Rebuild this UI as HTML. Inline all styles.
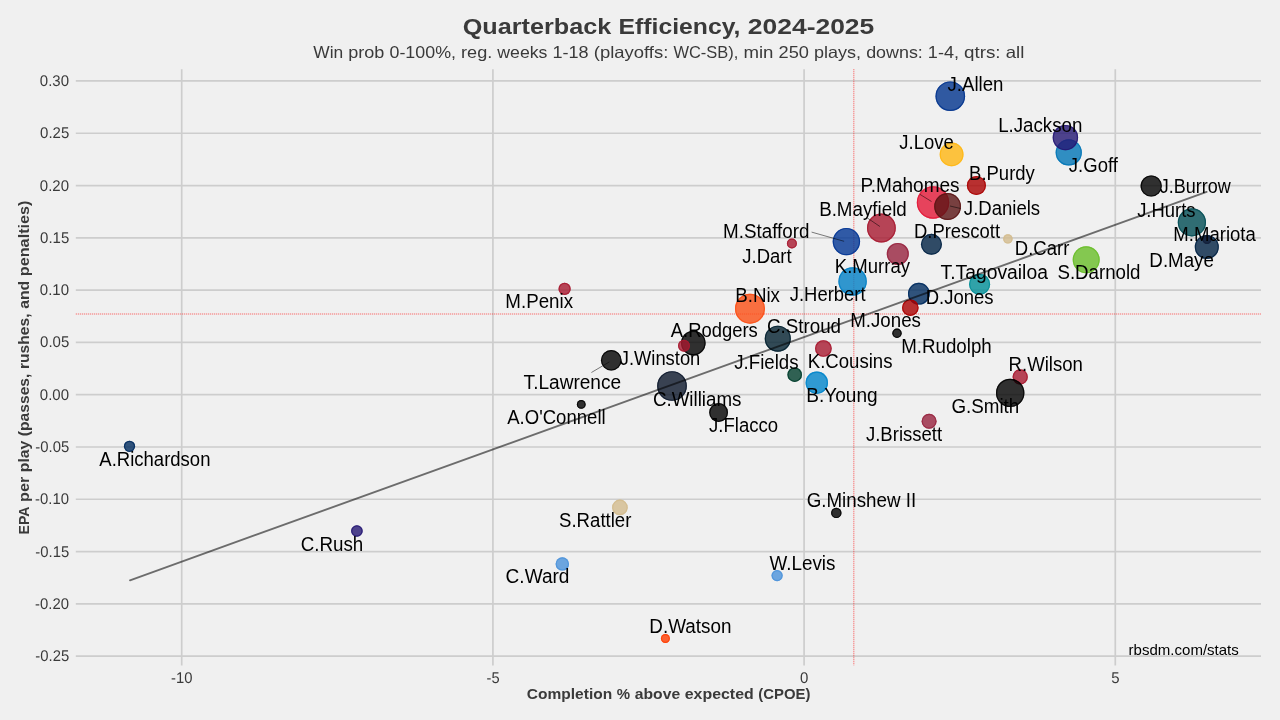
<!DOCTYPE html><html><head><meta charset="utf-8"><style>html,body{margin:0;padding:0;background:#F0F0F0;}svg{display:block;will-change:transform}.gp{text-rendering:geometricPrecision}text{font-family:"Liberation Sans",sans-serif}</style></head><body>
<svg width="1280" height="720" viewBox="0 0 1280 720">
<rect width="1280" height="720" fill="#F0F0F0"/>
<line x1="75.8" y1="80.95" x2="1261.0" y2="80.95" stroke="#CDCDCD" stroke-width="1.7"/>
<line x1="75.8" y1="133.24" x2="1261.0" y2="133.24" stroke="#CDCDCD" stroke-width="1.7"/>
<line x1="75.8" y1="185.53" x2="1261.0" y2="185.53" stroke="#CDCDCD" stroke-width="1.7"/>
<line x1="75.8" y1="237.82" x2="1261.0" y2="237.82" stroke="#CDCDCD" stroke-width="1.7"/>
<line x1="75.8" y1="290.11" x2="1261.0" y2="290.11" stroke="#CDCDCD" stroke-width="1.7"/>
<line x1="75.8" y1="342.40" x2="1261.0" y2="342.40" stroke="#CDCDCD" stroke-width="1.7"/>
<line x1="75.8" y1="394.69" x2="1261.0" y2="394.69" stroke="#CDCDCD" stroke-width="1.7"/>
<line x1="75.8" y1="446.98" x2="1261.0" y2="446.98" stroke="#CDCDCD" stroke-width="1.7"/>
<line x1="75.8" y1="499.27" x2="1261.0" y2="499.27" stroke="#CDCDCD" stroke-width="1.7"/>
<line x1="75.8" y1="551.56" x2="1261.0" y2="551.56" stroke="#CDCDCD" stroke-width="1.7"/>
<line x1="75.8" y1="603.85" x2="1261.0" y2="603.85" stroke="#CDCDCD" stroke-width="1.7"/>
<line x1="75.8" y1="656.14" x2="1261.0" y2="656.14" stroke="#CDCDCD" stroke-width="1.7"/>
<line x1="181.70" y1="69.3" x2="181.70" y2="665.5" stroke="#CDCDCD" stroke-width="1.7"/>
<line x1="492.90" y1="69.3" x2="492.90" y2="665.5" stroke="#CDCDCD" stroke-width="1.7"/>
<line x1="804.10" y1="69.3" x2="804.10" y2="665.5" stroke="#CDCDCD" stroke-width="1.7"/>
<line x1="1115.30" y1="69.3" x2="1115.30" y2="665.5" stroke="#CDCDCD" stroke-width="1.7"/>
<line x1="853.75" y1="69.3" x2="853.75" y2="665.5" stroke="#FF0000" stroke-opacity="0.45" stroke-width="1.5" stroke-dasharray="1,1"/>
<line x1="75.8" y1="314.0" x2="1261.0" y2="314.0" stroke="#FF0000" stroke-opacity="0.45" stroke-width="1.5" stroke-dasharray="1,1"/>
<g><circle cx="129.5" cy="446.3" r="5.60" fill="#002C5F" fill-opacity="0.8"/><circle cx="129.5" cy="446.3" r="5.00" fill="none" stroke="#002C5F" stroke-opacity="0.8" stroke-width="1.2"/></g>
<g><circle cx="356.9" cy="531.0" r="5.80" fill="#241773" fill-opacity="0.8"/><circle cx="356.9" cy="531.0" r="5.20" fill="none" stroke="#241773" stroke-opacity="0.8" stroke-width="1.2"/></g>
<g><circle cx="564.6" cy="288.9" r="6.10" fill="#A71930" fill-opacity="0.8"/><circle cx="564.6" cy="288.9" r="5.50" fill="none" stroke="#A71930" stroke-opacity="0.8" stroke-width="1.2"/></g>
<g><circle cx="562.3" cy="563.9" r="6.70" fill="#4B92DB" fill-opacity="0.8"/><circle cx="562.3" cy="563.9" r="6.10" fill="none" stroke="#4B92DB" stroke-opacity="0.8" stroke-width="1.2"/></g>
<g><circle cx="581.25" cy="404.4" r="4.40" fill="#000000" fill-opacity="0.8"/><circle cx="581.25" cy="404.4" r="3.80" fill="none" stroke="#000000" stroke-opacity="0.8" stroke-width="1.2"/></g>
<g><circle cx="611.25" cy="360.3" r="10.30" fill="#000000" fill-opacity="0.8"/><circle cx="611.25" cy="360.3" r="9.70" fill="none" stroke="#000000" stroke-opacity="0.8" stroke-width="1.2"/></g>
<g><circle cx="619.9" cy="507.4" r="7.80" fill="#D3BC8D" fill-opacity="0.8"/><circle cx="619.9" cy="507.4" r="7.20" fill="none" stroke="#D3BC8D" stroke-opacity="0.8" stroke-width="1.2"/></g>
<g><circle cx="665.4" cy="638.5" r="4.50" fill="#FF3C00" fill-opacity="0.8"/><circle cx="665.4" cy="638.5" r="3.90" fill="none" stroke="#FF3C00" stroke-opacity="0.8" stroke-width="1.2"/></g>
<g><circle cx="672.0" cy="386.0" r="14.85" fill="#0B162A" fill-opacity="0.8"/><circle cx="672.0" cy="386.0" r="14.25" fill="none" stroke="#0B162A" stroke-opacity="0.8" stroke-width="1.2"/></g>
<g><circle cx="693.3" cy="343.0" r="12.30" fill="#000000" fill-opacity="0.8"/><circle cx="693.3" cy="343.0" r="11.70" fill="none" stroke="#000000" stroke-opacity="0.8" stroke-width="1.2"/></g>
<g><circle cx="684.0" cy="345.7" r="6.00" fill="#A71930" fill-opacity="0.8"/><circle cx="684.0" cy="345.7" r="5.40" fill="none" stroke="#A71930" stroke-opacity="0.8" stroke-width="1.2"/></g>
<g><circle cx="718.6" cy="412.5" r="9.40" fill="#000000" fill-opacity="0.8"/><circle cx="718.6" cy="412.5" r="8.80" fill="none" stroke="#000000" stroke-opacity="0.8" stroke-width="1.2"/></g>
<g><circle cx="750.0" cy="308.7" r="15.00" fill="#FB4F14" fill-opacity="0.8"/><circle cx="750.0" cy="308.7" r="14.40" fill="none" stroke="#FB4F14" stroke-opacity="0.8" stroke-width="1.2"/></g>
<g><circle cx="777.1" cy="575.6" r="5.60" fill="#4B92DB" fill-opacity="0.8"/><circle cx="777.1" cy="575.6" r="5.00" fill="none" stroke="#4B92DB" stroke-opacity="0.8" stroke-width="1.2"/></g>
<g><circle cx="777.8" cy="338.7" r="13.05" fill="#03202F" fill-opacity="0.8"/><circle cx="777.8" cy="338.7" r="12.45" fill="none" stroke="#03202F" stroke-opacity="0.8" stroke-width="1.2"/></g>
<g><circle cx="791.9" cy="243.5" r="5.00" fill="#A71930" fill-opacity="0.8"/><circle cx="791.9" cy="243.5" r="4.40" fill="none" stroke="#A71930" stroke-opacity="0.8" stroke-width="1.2"/></g>
<g><circle cx="794.7" cy="374.7" r="7.30" fill="#003D2C" fill-opacity="0.8"/><circle cx="794.7" cy="374.7" r="6.70" fill="none" stroke="#003D2C" stroke-opacity="0.8" stroke-width="1.2"/></g>
<g><circle cx="816.8" cy="382.7" r="11.20" fill="#0085CA" fill-opacity="0.8"/><circle cx="816.8" cy="382.7" r="10.60" fill="none" stroke="#0085CA" stroke-opacity="0.8" stroke-width="1.2"/></g>
<g><circle cx="823.4" cy="348.5" r="8.35" fill="#A71930" fill-opacity="0.8"/><circle cx="823.4" cy="348.5" r="7.75" fill="none" stroke="#A71930" stroke-opacity="0.8" stroke-width="1.2"/></g>
<g><circle cx="836.3" cy="512.9" r="5.20" fill="#000000" fill-opacity="0.8"/><circle cx="836.3" cy="512.9" r="4.60" fill="none" stroke="#000000" stroke-opacity="0.8" stroke-width="1.2"/></g>
<g><circle cx="846.4" cy="241.6" r="13.70" fill="#003594" fill-opacity="0.8"/><circle cx="846.4" cy="241.6" r="13.10" fill="none" stroke="#003594" stroke-opacity="0.8" stroke-width="1.2"/></g>
<g><circle cx="852.6" cy="281.4" r="14.20" fill="#0080C6" fill-opacity="0.8"/><circle cx="852.6" cy="281.4" r="13.60" fill="none" stroke="#0080C6" stroke-opacity="0.8" stroke-width="1.2"/></g>
<g><circle cx="881.4" cy="228.0" r="14.40" fill="#A71930" fill-opacity="0.8"/><circle cx="881.4" cy="228.0" r="13.80" fill="none" stroke="#A71930" stroke-opacity="0.8" stroke-width="1.2"/></g>
<g><circle cx="897.0" cy="333.3" r="4.70" fill="#000000" fill-opacity="0.8"/><circle cx="897.0" cy="333.3" r="4.10" fill="none" stroke="#000000" stroke-opacity="0.8" stroke-width="1.2"/></g>
<g><circle cx="897.8" cy="253.9" r="11.00" fill="#97233F" fill-opacity="0.8"/><circle cx="897.8" cy="253.9" r="10.40" fill="none" stroke="#97233F" stroke-opacity="0.8" stroke-width="1.2"/></g>
<g><circle cx="918.9" cy="293.7" r="10.90" fill="#002C5F" fill-opacity="0.8"/><circle cx="918.9" cy="293.7" r="10.30" fill="none" stroke="#002C5F" stroke-opacity="0.8" stroke-width="1.2"/></g>
<g><circle cx="910.3" cy="307.7" r="8.30" fill="#AA0000" fill-opacity="0.8"/><circle cx="910.3" cy="307.7" r="7.70" fill="none" stroke="#AA0000" stroke-opacity="0.8" stroke-width="1.2"/></g>
<g><circle cx="929.1" cy="421.3" r="7.50" fill="#97233F" fill-opacity="0.8"/><circle cx="929.1" cy="421.3" r="6.90" fill="none" stroke="#97233F" stroke-opacity="0.8" stroke-width="1.2"/></g>
<g><circle cx="931.45" cy="244.3" r="10.50" fill="#002244" fill-opacity="0.8"/><circle cx="931.45" cy="244.3" r="9.90" fill="none" stroke="#002244" stroke-opacity="0.8" stroke-width="1.2"/></g>
<g><circle cx="933.0" cy="202.5" r="16.20" fill="#E31837" fill-opacity="0.8"/><circle cx="933.0" cy="202.5" r="15.60" fill="none" stroke="#E31837" stroke-opacity="0.8" stroke-width="1.2"/></g>
<g><circle cx="947.6" cy="206.5" r="13.40" fill="#5A1414" fill-opacity="0.8"/><circle cx="947.6" cy="206.5" r="12.80" fill="none" stroke="#5A1414" stroke-opacity="0.8" stroke-width="1.2"/></g>
<g><circle cx="950.3" cy="96.2" r="14.80" fill="#00338D" fill-opacity="0.8"/><circle cx="950.3" cy="96.2" r="14.20" fill="none" stroke="#00338D" stroke-opacity="0.8" stroke-width="1.2"/></g>
<g><circle cx="951.6" cy="154.4" r="11.90" fill="#FFB612" fill-opacity="0.8"/><circle cx="951.6" cy="154.4" r="11.30" fill="none" stroke="#FFB612" stroke-opacity="0.8" stroke-width="1.2"/></g>
<g><circle cx="976.4" cy="185.5" r="9.55" fill="#AA0000" fill-opacity="0.8"/><circle cx="976.4" cy="185.5" r="8.95" fill="none" stroke="#AA0000" stroke-opacity="0.8" stroke-width="1.2"/></g>
<g><circle cx="979.6" cy="284.3" r="10.55" fill="#008E97" fill-opacity="0.8"/><circle cx="979.6" cy="284.3" r="9.95" fill="none" stroke="#008E97" stroke-opacity="0.8" stroke-width="1.2"/></g>
<g><circle cx="1007.9" cy="238.9" r="4.70" fill="#D3BC8D" fill-opacity="0.8"/><circle cx="1007.9" cy="238.9" r="4.10" fill="none" stroke="#D3BC8D" stroke-opacity="0.8" stroke-width="1.2"/></g>
<g><circle cx="1020.2" cy="376.9" r="7.60" fill="#A71930" fill-opacity="0.8"/><circle cx="1020.2" cy="376.9" r="7.00" fill="none" stroke="#A71930" stroke-opacity="0.8" stroke-width="1.2"/></g>
<g><circle cx="1010.2" cy="392.9" r="14.20" fill="#000000" fill-opacity="0.8"/><circle cx="1010.2" cy="392.9" r="13.60" fill="none" stroke="#000000" stroke-opacity="0.8" stroke-width="1.2"/></g>
<g><circle cx="1068.75" cy="152.4" r="13.10" fill="#0076B6" fill-opacity="0.8"/><circle cx="1068.75" cy="152.4" r="12.50" fill="none" stroke="#0076B6" stroke-opacity="0.8" stroke-width="1.2"/></g>
<g><circle cx="1065.4" cy="137.6" r="12.70" fill="#241773" fill-opacity="0.8"/><circle cx="1065.4" cy="137.6" r="12.10" fill="none" stroke="#241773" stroke-opacity="0.8" stroke-width="1.2"/></g>
<g><circle cx="1086.2" cy="259.8" r="13.50" fill="#69BE28" fill-opacity="0.8"/><circle cx="1086.2" cy="259.8" r="12.90" fill="none" stroke="#69BE28" stroke-opacity="0.8" stroke-width="1.2"/></g>
<g><circle cx="1151.2" cy="186.0" r="10.60" fill="#000000" fill-opacity="0.8"/><circle cx="1151.2" cy="186.0" r="10.00" fill="none" stroke="#000000" stroke-opacity="0.8" stroke-width="1.2"/></g>
<g><circle cx="1191.9" cy="222.4" r="14.10" fill="#004C54" fill-opacity="0.8"/><circle cx="1191.9" cy="222.4" r="13.50" fill="none" stroke="#004C54" stroke-opacity="0.8" stroke-width="1.2"/></g>
<g><circle cx="1207.0" cy="239.5" r="4.50" fill="#5A1414" fill-opacity="0.8"/><circle cx="1207.0" cy="239.5" r="3.90" fill="none" stroke="#5A1414" stroke-opacity="0.8" stroke-width="1.2"/></g>
<g><circle cx="1206.8" cy="246.9" r="12.00" fill="#002244" fill-opacity="0.8"/><circle cx="1206.8" cy="246.9" r="11.40" fill="none" stroke="#002244" stroke-opacity="0.8" stroke-width="1.2"/></g>
<line x1="130" y1="580.3" x2="1206.6" y2="191.9" stroke="#000" stroke-opacity="0.55" stroke-width="1.9" stroke-linecap="round"/>
<line x1="920" y1="194.4" x2="931.5" y2="201.5" stroke="#000" stroke-opacity="0.5" stroke-width="1"/>
<line x1="950" y1="206" x2="960.6" y2="208.5" stroke="#000" stroke-opacity="0.5" stroke-width="1"/>
<line x1="867.1" y1="217.8" x2="879.9" y2="226.5" stroke="#000" stroke-opacity="0.5" stroke-width="1"/>
<line x1="811.6" y1="232.1" x2="844.1" y2="241.3" stroke="#000" stroke-opacity="0.5" stroke-width="1"/>
<line x1="591.4" y1="372.5" x2="609.4" y2="361.9" stroke="#000" stroke-opacity="0.5" stroke-width="1"/>
<text x="947.56" y="90.50" font-size="19.4" fill="#000" textLength="55.92" lengthAdjust="spacingAndGlyphs">J.Allen</text>
<text x="998.15" y="131.60" font-size="19.4" fill="#000" textLength="84.24" lengthAdjust="spacingAndGlyphs">L.Jackson</text>
<text x="1068.86" y="171.70" font-size="19.4" fill="#000" textLength="49.04" lengthAdjust="spacingAndGlyphs">J.Goff</text>
<text x="899.36" y="148.80" font-size="19.4" fill="#000" textLength="54.40" lengthAdjust="spacingAndGlyphs">J.Love</text>
<text x="969.07" y="179.50" font-size="19.4" fill="#000" textLength="65.77" lengthAdjust="spacingAndGlyphs">B.Purdy</text>
<text x="860.53" y="191.80" font-size="19.4" fill="#000" textLength="99.11" lengthAdjust="spacingAndGlyphs">P.Mahomes</text>
<text x="963.86" y="214.85" font-size="19.4" fill="#000" textLength="76.29" lengthAdjust="spacingAndGlyphs">J.Daniels</text>
<text x="1159.77" y="193.20" font-size="19.4" fill="#000" textLength="71.06" lengthAdjust="spacingAndGlyphs">J.Burrow</text>
<text x="1137.16" y="216.80" font-size="19.4" fill="#000" textLength="58.39" lengthAdjust="spacingAndGlyphs">J.Hurts</text>
<text x="1173.37" y="241.40" font-size="19.4" fill="#000" textLength="82.42" lengthAdjust="spacingAndGlyphs">M.Mariota</text>
<text x="1149.35" y="267.00" font-size="19.4" fill="#000" textLength="64.56" lengthAdjust="spacingAndGlyphs">D.Maye</text>
<text x="819.15" y="215.60" font-size="19.4" fill="#000" textLength="87.62" lengthAdjust="spacingAndGlyphs">B.Mayfield</text>
<text x="723.05" y="237.60" font-size="19.4" fill="#000" textLength="86.39" lengthAdjust="spacingAndGlyphs">M.Stafford</text>
<text x="742.26" y="262.80" font-size="19.4" fill="#000" textLength="49.37" lengthAdjust="spacingAndGlyphs">J.Dart</text>
<text x="834.77" y="273.30" font-size="19.4" fill="#000" textLength="75.21" lengthAdjust="spacingAndGlyphs">K.Murray</text>
<text x="913.97" y="238.30" font-size="19.4" fill="#000" textLength="86.08" lengthAdjust="spacingAndGlyphs">D.Prescott</text>
<text x="1014.87" y="255.10" font-size="19.4" fill="#000" textLength="54.48" lengthAdjust="spacingAndGlyphs">D.Carr</text>
<text x="1057.44" y="279.10" font-size="19.4" fill="#000" textLength="83.08" lengthAdjust="spacingAndGlyphs">S.Darnold</text>
<text x="789.76" y="301.00" font-size="19.4" fill="#000" textLength="75.80" lengthAdjust="spacingAndGlyphs">J.Herbert</text>
<text x="735.25" y="302.30" font-size="19.4" fill="#000" textLength="44.68" lengthAdjust="spacingAndGlyphs">B.Nix</text>
<text x="925.67" y="303.80" font-size="19.4" fill="#000" textLength="67.86" lengthAdjust="spacingAndGlyphs">D.Jones</text>
<text x="850.25" y="326.60" font-size="19.4" fill="#000" textLength="70.63" lengthAdjust="spacingAndGlyphs">M.Jones</text>
<text x="940.50" y="278.70" font-size="19.4" fill="#000" textLength="107.39" lengthAdjust="spacingAndGlyphs">T.Tagovailoa</text>
<text x="505.35" y="308.40" font-size="19.4" fill="#000" textLength="67.66" lengthAdjust="spacingAndGlyphs">M.Penix</text>
<text x="670.76" y="337.20" font-size="19.4" fill="#000" textLength="87.06" lengthAdjust="spacingAndGlyphs">A.Rodgers</text>
<text x="619.76" y="365.20" font-size="19.4" fill="#000" textLength="80.54" lengthAdjust="spacingAndGlyphs">J.Winston</text>
<text x="523.61" y="388.50" font-size="19.4" fill="#000" textLength="97.52" lengthAdjust="spacingAndGlyphs">T.Lawrence</text>
<text x="652.93" y="405.60" font-size="19.4" fill="#000" textLength="88.48" lengthAdjust="spacingAndGlyphs">C.Williams</text>
<text x="507.16" y="423.90" font-size="19.4" fill="#000" textLength="98.49" lengthAdjust="spacingAndGlyphs">A.O&#39;Connell</text>
<text x="709.06" y="431.80" font-size="19.4" fill="#000" textLength="69.13" lengthAdjust="spacingAndGlyphs">J.Flacco</text>
<text x="766.93" y="332.60" font-size="19.4" fill="#000" textLength="74.13" lengthAdjust="spacingAndGlyphs">C.Stroud</text>
<text x="734.26" y="368.75" font-size="19.4" fill="#000" textLength="64.24" lengthAdjust="spacingAndGlyphs">J.Fields</text>
<text x="807.76" y="367.90" font-size="19.4" fill="#000" textLength="84.77" lengthAdjust="spacingAndGlyphs">K.Cousins</text>
<text x="806.23" y="402.00" font-size="19.4" fill="#000" textLength="71.40" lengthAdjust="spacingAndGlyphs">B.Young</text>
<text x="901.25" y="352.60" font-size="19.4" fill="#000" textLength="90.51" lengthAdjust="spacingAndGlyphs">M.Rudolph</text>
<text x="865.96" y="440.70" font-size="19.4" fill="#000" textLength="76.19" lengthAdjust="spacingAndGlyphs">J.Brissett</text>
<text x="951.43" y="412.50" font-size="19.4" fill="#000" textLength="67.84" lengthAdjust="spacingAndGlyphs">G.Smith</text>
<text x="1008.56" y="370.75" font-size="19.4" fill="#000" textLength="74.34" lengthAdjust="spacingAndGlyphs">R.Wilson</text>
<text x="99.36" y="465.50" font-size="19.4" fill="#000" textLength="111.08" lengthAdjust="spacingAndGlyphs">A.Richardson</text>
<text x="300.63" y="550.60" font-size="19.4" fill="#000" textLength="62.61" lengthAdjust="spacingAndGlyphs">C.Rush</text>
<text x="559.04" y="526.90" font-size="19.4" fill="#000" textLength="72.36" lengthAdjust="spacingAndGlyphs">S.Rattler</text>
<text x="505.62" y="583.40" font-size="19.4" fill="#000" textLength="63.84" lengthAdjust="spacingAndGlyphs">C.Ward</text>
<text x="769.46" y="569.80" font-size="19.4" fill="#000" textLength="65.99" lengthAdjust="spacingAndGlyphs">W.Levis</text>
<text x="649.34" y="632.90" font-size="19.4" fill="#000" textLength="82.12" lengthAdjust="spacingAndGlyphs">D.Watson</text>
<text x="806.63" y="506.80" font-size="19.4" fill="#000" textLength="109.50" lengthAdjust="spacingAndGlyphs">G.Minshew II</text>
<text x="1128.60" y="654.8" font-size="14.2" fill="#000" textLength="110.23" lengthAdjust="spacingAndGlyphs">rbsdm.com/stats</text>
<text x="462.70" y="34.05" font-size="22.40" font-weight="bold" fill="#3a3a3a" textLength="148.53" lengthAdjust="spacingAndGlyphs">Quarterback</text>
<text x="618.59" y="34.05" font-size="22.40" font-weight="bold" fill="#3a3a3a" textLength="121.92" lengthAdjust="spacingAndGlyphs">Efficiency,</text>
<text x="747.86" y="34.05" font-size="22.40" font-weight="bold" fill="#3a3a3a" textLength="126.41" lengthAdjust="spacingAndGlyphs">2024-2025</text>
<text x="313.27" y="57.80" font-size="16.89" fill="#3a3a3a" textLength="29.93" lengthAdjust="spacingAndGlyphs">Win</text>
<text x="348.26" y="57.80" font-size="16.89" fill="#3a3a3a" textLength="36.17" lengthAdjust="spacingAndGlyphs">prob</text>
<text x="389.50" y="57.80" font-size="16.89" fill="#3a3a3a" textLength="66.50" lengthAdjust="spacingAndGlyphs">0-100%,</text>
<text x="461.06" y="57.80" font-size="16.89" fill="#3a3a3a" textLength="31.18" lengthAdjust="spacingAndGlyphs">reg.</text>
<text x="497.31" y="57.80" font-size="16.89" fill="#3a3a3a" textLength="50.16" lengthAdjust="spacingAndGlyphs">weeks</text>
<text x="552.53" y="57.80" font-size="16.89" fill="#3a3a3a" textLength="36.16" lengthAdjust="spacingAndGlyphs">1-18</text>
<text x="593.76" y="57.80" font-size="16.89" fill="#3a3a3a" textLength="74.58" lengthAdjust="spacingAndGlyphs">(playoffs:</text>
<text x="673.40" y="57.80" font-size="16.89" fill="#3a3a3a" textLength="64.95" lengthAdjust="spacingAndGlyphs">WC-SB),</text>
<text x="743.42" y="57.80" font-size="16.89" fill="#3a3a3a" textLength="30.04" lengthAdjust="spacingAndGlyphs">min</text>
<text x="778.53" y="57.80" font-size="16.89" fill="#3a3a3a" textLength="30.41" lengthAdjust="spacingAndGlyphs">250</text>
<text x="814.00" y="57.80" font-size="16.89" fill="#3a3a3a" textLength="47.10" lengthAdjust="spacingAndGlyphs">plays,</text>
<text x="866.16" y="57.80" font-size="16.89" fill="#3a3a3a" textLength="56.66" lengthAdjust="spacingAndGlyphs">downs:</text>
<text x="927.88" y="57.80" font-size="16.89" fill="#3a3a3a" textLength="31.09" lengthAdjust="spacingAndGlyphs">1-4,</text>
<text x="964.03" y="57.80" font-size="16.89" fill="#3a3a3a" textLength="36.58" lengthAdjust="spacingAndGlyphs">qtrs:</text>
<text x="1005.68" y="57.80" font-size="16.89" fill="#3a3a3a" textLength="18.62" lengthAdjust="spacingAndGlyphs">all</text>
<text x="526.84" y="698.60" font-size="14.10" font-weight="bold" fill="#3a3a3a" textLength="85.39" lengthAdjust="spacingAndGlyphs">Completion</text>
<text x="616.86" y="698.60" font-size="14.10" font-weight="bold" fill="#3a3a3a" textLength="13.33" lengthAdjust="spacingAndGlyphs">%</text>
<text x="634.81" y="698.60" font-size="14.10" font-weight="bold" fill="#3a3a3a" textLength="45.33" lengthAdjust="spacingAndGlyphs">above</text>
<text x="684.77" y="698.60" font-size="14.10" font-weight="bold" fill="#3a3a3a" textLength="68.93" lengthAdjust="spacingAndGlyphs">expected</text>
<text x="758.33" y="698.60" font-size="14.10" font-weight="bold" fill="#3a3a3a" textLength="52.06" lengthAdjust="spacingAndGlyphs">(CPOE)</text>
<g transform="translate(28.75,735) rotate(-90)"><text x="200.48" y="0.00" font-size="14.12" font-weight="bold" fill="#3a3a3a" textLength="27.96" lengthAdjust="spacingAndGlyphs">EPA</text><text x="233.07" y="0.00" font-size="14.12" font-weight="bold" fill="#3a3a3a" textLength="25.15" lengthAdjust="spacingAndGlyphs">per</text><text x="262.86" y="0.00" font-size="14.12" font-weight="bold" fill="#3a3a3a" textLength="31.37" lengthAdjust="spacingAndGlyphs">play</text><text x="298.87" y="0.00" font-size="14.12" font-weight="bold" fill="#3a3a3a" textLength="62.51" lengthAdjust="spacingAndGlyphs">(passes,</text><text x="366.03" y="0.00" font-size="14.12" font-weight="bold" fill="#3a3a3a" textLength="55.51" lengthAdjust="spacingAndGlyphs">rushes,</text><text x="426.17" y="0.00" font-size="14.12" font-weight="bold" fill="#3a3a3a" textLength="28.02" lengthAdjust="spacingAndGlyphs">and</text><text x="458.83" y="0.00" font-size="14.12" font-weight="bold" fill="#3a3a3a" textLength="75.62" lengthAdjust="spacingAndGlyphs">penalties)</text></g>
<text class="gp" x="39.80" y="85.95" font-size="15.50" fill="#3a3a3a" textLength="29.17" lengthAdjust="spacingAndGlyphs">0.30</text>
<text class="gp" x="40.08" y="138.24" font-size="15.50" fill="#3a3a3a" textLength="29.17" lengthAdjust="spacingAndGlyphs">0.25</text>
<text class="gp" x="39.80" y="190.53" font-size="15.50" fill="#3a3a3a" textLength="29.17" lengthAdjust="spacingAndGlyphs">0.20</text>
<text class="gp" x="40.08" y="242.82" font-size="15.50" fill="#3a3a3a" textLength="29.17" lengthAdjust="spacingAndGlyphs">0.15</text>
<text class="gp" x="39.80" y="295.11" font-size="15.50" fill="#3a3a3a" textLength="29.17" lengthAdjust="spacingAndGlyphs">0.10</text>
<text class="gp" x="40.08" y="347.40" font-size="15.50" fill="#3a3a3a" textLength="29.17" lengthAdjust="spacingAndGlyphs">0.05</text>
<text class="gp" x="39.80" y="399.69" font-size="15.50" fill="#3a3a3a" textLength="29.17" lengthAdjust="spacingAndGlyphs">0.00</text>
<text class="gp" x="35.35" y="451.98" font-size="15.50" fill="#3a3a3a" textLength="33.90" lengthAdjust="spacingAndGlyphs">-0.05</text>
<text class="gp" x="35.07" y="504.27" font-size="15.50" fill="#3a3a3a" textLength="33.90" lengthAdjust="spacingAndGlyphs">-0.10</text>
<text class="gp" x="35.35" y="556.56" font-size="15.50" fill="#3a3a3a" textLength="33.90" lengthAdjust="spacingAndGlyphs">-0.15</text>
<text class="gp" x="35.07" y="608.85" font-size="15.50" fill="#3a3a3a" textLength="33.90" lengthAdjust="spacingAndGlyphs">-0.20</text>
<text class="gp" x="35.35" y="661.14" font-size="15.50" fill="#3a3a3a" textLength="33.90" lengthAdjust="spacingAndGlyphs">-0.25</text>
<text class="gp" x="171.12" y="682.70" font-size="15.50" fill="#3a3a3a" textLength="21.40" lengthAdjust="spacingAndGlyphs">-10</text>
<text class="gp" x="486.62" y="682.70" font-size="15.50" fill="#3a3a3a" textLength="13.06" lengthAdjust="spacingAndGlyphs">-5</text>
<text class="gp" x="799.94" y="682.70" font-size="15.50" fill="#3a3a3a" textLength="8.33" lengthAdjust="spacingAndGlyphs">0</text>
<text class="gp" x="1111.20" y="682.70" font-size="15.50" fill="#3a3a3a" textLength="8.33" lengthAdjust="spacingAndGlyphs">5</text>
</svg></body></html>
